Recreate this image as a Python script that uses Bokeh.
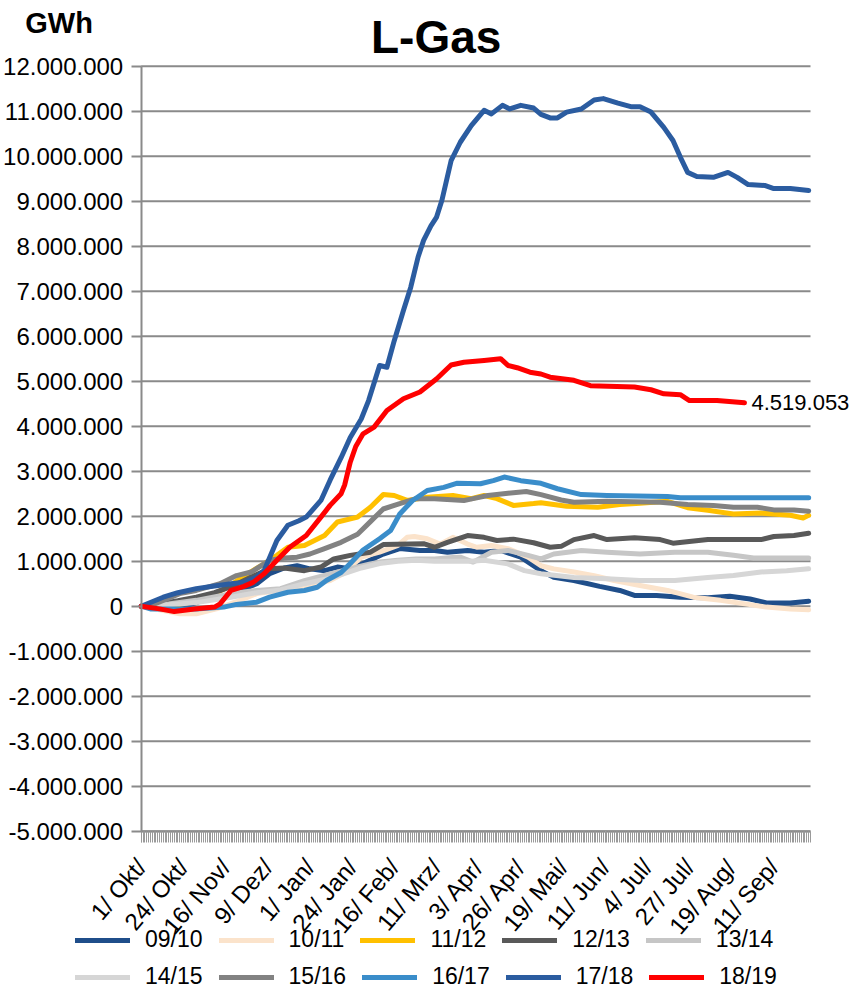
import math
from bokeh.plotting import figure
from bokeh.models import Range1d, FixedTicker, Legend, LegendItem, Label
from bokeh.embed import file_html
from bokeh.resources import INLINE

FONT = "Liberation Sans"

# ---- data (values in millions of GWh, x = days since 1 Oct) ----
seasons = ["09/10", "10/11", "11/12", "12/13", "13/14",
           "14/15", "15/16", "16/17", "17/18", "18/19"]
colors = ["#1F4E8A", "#FBE3CB", "#FFC000", "#595959", "#C6C6C6",
          "#D6D6D6", "#828282", "#3A8DCA", "#2B5CA0", "#FF0000"]

d_0910 = [0, 12, 25, 36, 47, 54, 63, 70, 78, 85, 92, 100, 107, 114, 121, 132, 141, 152, 160, 167, 178,
          187, 196, 207, 218, 225, 236, 250, 261, 269, 281, 294, 309, 321, 332, 341, 354, 364]
v_0910 = [0, -0.01, 0.02, 0.16, 0.24, 0.35, 0.5, 0.72, 0.85, 0.9, 0.83, 0.79, 0.87, 0.83, 0.95, 1.16, 1.28,
          1.24, 1.24, 1.2, 1.24, 1.2, 1.24, 1.09, 0.79, 0.64, 0.57, 0.44, 0.35, 0.24, 0.24, 0.2, 0.19, 0.22,
          0.16, 0.07, 0.07, 0.11]

d_1011 = [0, 10, 21, 30, 41, 52, 63, 75, 85, 95, 103, 110, 120, 130, 140, 145, 149, 156, 163, 170, 178,
          183, 191, 200, 211, 218, 225, 236, 247, 258, 272, 287, 301, 316, 331, 341, 354, 364]
v_1011 = [0, -0.08, -0.17, -0.17, -0.06, 0.1, 0.28, 0.35, 0.42, 0.5, 0.57, 0.72, 1.09, 1.2, 1.35, 1.53,
          1.55, 1.5, 1.38, 1.53, 1.38, 1.31, 1.35, 1.28, 1.09, 0.9, 0.83, 0.76, 0.68, 0.57, 0.46, 0.35,
          0.2, 0.13, 0.04, -0.02, -0.06, -0.08]

d_1112 = [0, 10, 20, 27, 36, 47, 58, 67, 74, 80, 89, 100, 107, 118, 125, 132, 138, 145, 156, 170, 180,
          187, 194, 203, 214, 218, 232, 249, 261, 272, 287, 298, 309, 323, 338, 354, 361, 364]
v_1112 = [0, 0.0, 0.03, 0.09, 0.2, 0.42, 0.72, 0.94, 1.13, 1.31, 1.35, 1.57, 1.87, 1.98, 2.2, 2.48, 2.46,
          2.35, 2.42, 2.46, 2.39, 2.46, 2.39, 2.24, 2.28, 2.3, 2.22, 2.2, 2.26, 2.29, 2.33, 2.19, 2.13,
          2.05, 2.07, 2.02, 1.96, 2.02]

d_1213 = [0, 10, 20, 30, 40, 50, 60, 70, 78, 89, 98, 105, 114, 125, 132, 154, 160, 167, 178, 187, 194,
          203, 214, 223, 229, 236, 247, 254, 269, 283, 290, 309, 338, 345, 356, 364]
v_1213 = [0, 0.05, 0.12, 0.2, 0.3, 0.45, 0.65, 0.83, 0.85, 0.79, 0.87, 1.05, 1.13, 1.2, 1.37, 1.39, 1.31,
          1.42, 1.57, 1.53, 1.46, 1.49, 1.41, 1.31, 1.33, 1.48, 1.57, 1.48, 1.52, 1.48, 1.4, 1.48, 1.48,
          1.55, 1.57, 1.62]

d_1314 = [0, 15, 30, 49, 63, 76, 89, 103, 118, 125, 130, 140, 150, 160, 170, 174, 181, 191, 200, 211,
          218, 225, 240, 254, 272, 291, 309, 323, 334, 364]
v_1314 = [0, 0.05, 0.13, 0.28, 0.35, 0.39, 0.57, 0.72, 0.87, 0.94, 0.98, 1.02, 1.05, 1.05, 1.08, 1.09,
          0.98, 1.2, 1.24, 1.13, 1.05, 1.16, 1.24, 1.2, 1.16, 1.2, 1.2, 1.13, 1.07, 1.07]

d_1415 = [0, 15, 30, 49, 63, 76, 89, 103, 109, 120, 130, 140, 150, 160, 170, 180, 187, 200, 209, 218,
          236, 254, 272, 291, 309, 323, 338, 352, 364]
v_1415 = [0, 0.03, 0.08, 0.2, 0.3, 0.36, 0.5, 0.62, 0.7, 0.85, 0.95, 1.0, 1.02, 1.0, 1.0, 1.0, 1.02,
          0.94, 0.79, 0.72, 0.64, 0.61, 0.57, 0.57, 0.64, 0.68, 0.76, 0.79, 0.83]

d_1516 = [0, 5, 12, 21, 30, 43, 52, 60, 70, 78, 85, 92, 100, 109, 118, 125, 132, 141, 150, 160, 176,
          181, 189, 200, 210, 218, 229, 236, 254, 283, 298, 312, 323, 336, 345, 356, 364]
v_1516 = [0, 0.01, 0.13, 0.28, 0.35, 0.5, 0.68, 0.76, 1.02, 1.07, 1.09, 1.16, 1.28, 1.42, 1.6, 1.88,
          2.16, 2.28, 2.39, 2.39, 2.35, 2.39, 2.46, 2.51, 2.55, 2.48, 2.36, 2.31, 2.33, 2.31, 2.26, 2.24,
          2.2, 2.2, 2.14, 2.14, 2.11]

d_1617 = [0, 5, 12, 30, 45, 52, 63, 70, 80, 89, 96, 101, 109, 114, 121, 130, 136, 141, 148, 156, 165,
          172, 185, 192, 198, 207, 218, 227, 240, 254, 287, 294, 364]
v_1617 = [0, -0.06, -0.06, -0.06, -0.02, 0.04, 0.09, 0.2, 0.31, 0.35, 0.42, 0.57, 0.75, 0.95, 1.25, 1.5,
          1.68, 2.05, 2.35, 2.57, 2.64, 2.73, 2.72, 2.79, 2.87, 2.79, 2.73, 2.61, 2.48, 2.46, 2.44, 2.41,
          2.41]

d_1718 = [0, 6, 12, 20, 30, 40, 49, 56, 63, 67, 74, 80, 86, 90, 98, 103, 109, 114, 120, 124, 130, 134,
          138, 143, 147, 151, 154, 158, 161, 164, 169, 174, 180, 187, 191, 197, 201, 207, 214, 218, 223,
          227, 232, 240, 247, 252, 260, 267, 272, 278, 285, 290, 294, 298, 303, 312, 320, 325, 331, 340,
          345, 354, 364]
v_1718 = [0, 0.1, 0.2, 0.3, 0.39, 0.45, 0.5, 0.53, 0.65, 0.79, 1.46, 1.8, 1.9, 1.98, 2.35, 2.8, 3.3, 3.75,
          4.16, 4.57, 5.35, 5.31, 5.9, 6.57, 7.09, 7.76, 8.13, 8.45, 8.64, 9.02, 9.9, 10.31, 10.68, 11.02,
          10.94, 11.13, 11.05, 11.13, 11.07, 10.93, 10.85, 10.85, 10.98, 11.05, 11.25, 11.28, 11.18, 11.1,
          11.1, 10.98, 10.64, 10.35, 9.98, 9.64, 9.55, 9.53, 9.64, 9.53, 9.37, 9.35, 9.28, 9.28, 9.24]

d_1819 = [0, 10, 18, 29, 40, 43, 49, 56, 61, 67, 74, 81, 90, 98, 103, 109, 111, 114, 117, 121, 127, 134,
          143, 152, 161, 169, 176, 187, 196, 200, 205, 212, 218, 223, 236, 245, 269, 278, 285, 294, 299,
          314, 329]
v_1819 = [0, -0.06, -0.12, -0.06, -0.02, 0.05, 0.35, 0.44, 0.53, 0.72, 1.02, 1.31, 1.57, 1.98, 2.24, 2.5,
          2.7, 3.2, 3.55, 3.83, 3.98, 4.35, 4.61, 4.76, 5.05, 5.36, 5.42, 5.46, 5.5, 5.35, 5.3, 5.2, 5.16,
          5.09, 5.02, 4.9, 4.87, 4.81, 4.72, 4.7, 4.57, 4.57, 4.519053]

x_tick_days = [0, 23, 46, 69, 92, 115, 138, 161, 184, 207, 230, 253, 276, 299, 322, 345]
x_tick_labels = ["1/ Okt/", "24/ Okt/", "16/ Nov/", "9/ Dez/", "1/ Jan/", "24/ Jan/", "16/ Feb/",
                 "11/ Mrz/", "3/ Apr/", "26/ Apr/", "19/ Mai/", "11/ Jun/", "4/ Jul/", "27/ Jul/",
                 "19/ Aug/", "11/ Sep/"]
y_ticks_m = list(range(-5, 13))
season_days = 365

days_all = [d_0910, d_1011, d_1112, d_1213, d_1314, d_1415, d_1516, d_1617, d_1718, d_1819]
vals_all = [v_0910, v_1011, v_1112, v_1213, v_1314, v_1415, v_1516, v_1617, v_1718, v_1819]

SCALE = 1_000_000


def de_fmt(v):
    return f"{int(round(v)):,}".replace(",", ".")


# ---- layout geometry (pixels inside the canvas) ----
W, H = 855, 990
AX_LEFT, AX_RIGHT = 140.7, 810.0      # x of day 0 and day 365
AX_TOP, AX_BOTTOM = 65.7, 830.7       # y of 12M and -5M
ymin_m, ymax_m = y_ticks_m[0], y_ticks_m[-1]
px_day = (AX_RIGHT - AX_LEFT) / season_days
px_val = (AX_BOTTOM - AX_TOP) / ((ymax_m - ymin_m) * SCALE)

x_range = Range1d(-AX_LEFT / px_day, season_days + (W - AX_RIGHT) / px_day)
y_range = Range1d(ymin_m * SCALE - (H - AX_BOTTOM) / px_val, ymax_m * SCALE + AX_TOP / px_val)

p = figure(width=W, height=H, output_backend="svg", toolbar_location=None,
           x_range=x_range, y_range=y_range, title=None,
           min_border_left=0, min_border_right=0, min_border_top=0, min_border_bottom=0)
p.outline_line_color = None
p.background_fill_color = "white"
p.border_fill_color = "white"
p.xgrid.visible = False
p.ygrid.visible = False

GRID = "#8a8a8a"
yt = [v * SCALE for v in y_ticks_m]

# horizontal grid lines spanning the season only
p.segment(x0=[0] * len(yt), x1=[season_days] * len(yt), y0=yt, y1=yt,
          line_color=GRID, line_width=2)

# y axis
p.yaxis.fixed_location = 0
p.yaxis.bounds = (yt[0], yt[-1])
p.yaxis.ticker = FixedTicker(ticks=yt)
p.yaxis.major_label_overrides = {v: de_fmt(v) for v in yt}
p.yaxis.major_label_text_font = FONT
p.yaxis.major_label_text_font_size = "24px"
p.yaxis.major_label_text_color = "black"
p.yaxis.axis_line_color = GRID
p.yaxis.axis_line_width = 2
p.yaxis.major_tick_line_color = GRID
p.yaxis.major_tick_line_width = 2
p.yaxis.major_tick_out = 10
p.yaxis.major_tick_in = 0
p.yaxis.minor_tick_line_color = None
p.yaxis.major_label_standoff = 8

# x axis
p.xaxis.fixed_location = yt[0]
p.xaxis.bounds = (0, season_days)
p.xaxis.ticker = FixedTicker(ticks=x_tick_days, minor_ticks=list(range(0, season_days + 1)))
p.xaxis.major_label_overrides = {d: t for d, t in zip(x_tick_days, x_tick_labels)}
p.xaxis.major_label_orientation = 0.87
p.xaxis.major_label_text_font = FONT
p.xaxis.major_label_text_font_size = "24px"
p.xaxis.major_label_text_color = "black"
p.xaxis.axis_line_color = GRID
p.xaxis.axis_line_width = 2
p.xaxis.major_tick_line_color = "#bbbbbb"
p.xaxis.major_tick_out = 11
p.xaxis.major_tick_in = 0
p.xaxis.minor_tick_line_color = "#9a9a9a"
p.xaxis.minor_tick_out = 11
p.xaxis.minor_tick_in = 0
p.xaxis.major_label_standoff = 20

renderers = []
for name, col, d, v in zip(seasons, colors, days_all, vals_all):
    r = p.line(d, [x * SCALE for x in v], line_color=col, line_width=5,
               line_join="round", line_cap="round")
    renderers.append((name, r))


def make_legend(items, vy):
    return Legend(items=[LegendItem(label=n, renderers=[r]) for n, r in items],
                  orientation="horizontal", location=(75, vy),
                  glyph_width=55, glyph_height=22, label_standoff=15, spacing=16,
                  padding=0, margin=0, border_line_color=None, background_fill_alpha=0,
                  label_text_font=FONT, label_text_font_size="23px", label_text_color="black",
                  label_height=22)


p.add_layout(make_legend(renderers[:5], 37))
p.add_layout(make_legend(renderers[5:], 0))

# title
p.add_layout(Label(x=0, y=yt[-1], x_offset=295, y_offset=29, text="L-Gas",
                   text_align="center", text_baseline="middle", text_font=FONT,
                   text_font_size="46px", text_font_style="bold", text_color="black"))

# unit label
p.add_layout(Label(x=0, y=yt[-1], x_offset=-116, y_offset=43, text="GWh",
                   text_baseline="middle", text_font=FONT, text_font_size="29px",
                   text_font_style="bold", text_color="black"))

# end value of 18/19
p.add_layout(Label(x=d_1819[-1], y=v_1819[-1] * SCALE, text=de_fmt(v_1819[-1] * SCALE),
                   x_offset=7, text_baseline="middle", text_font=FONT, text_font_size="22px",
                   text_color="black"))

open("out.html", "w").write(file_html(p, INLINE))
